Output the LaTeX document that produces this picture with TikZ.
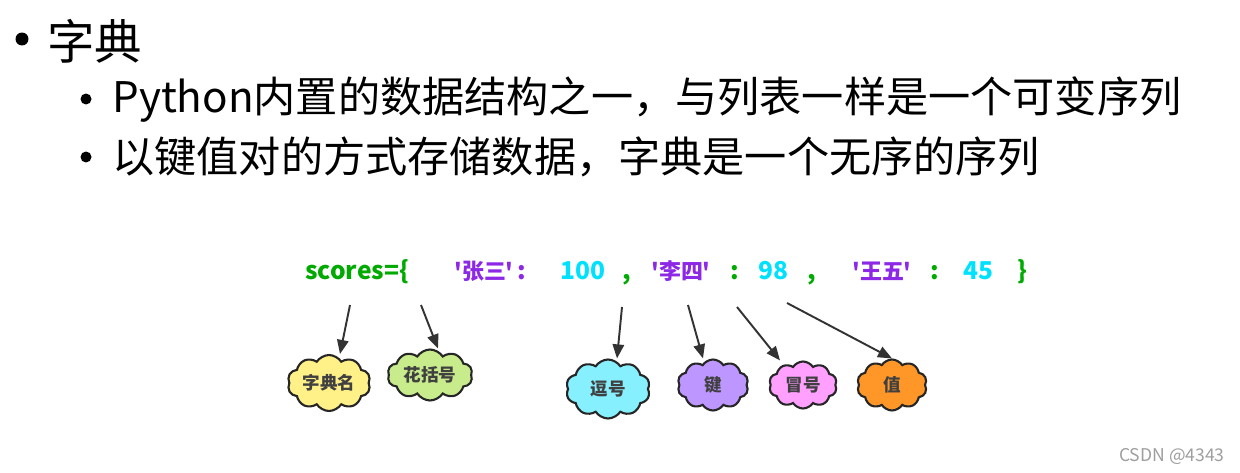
\documentclass[tikz,border=0pt]{standalone}
\usepackage{fontspec}
\setmainfont{Noto Sans CJK SC}
\usetikzlibrary{shapes.symbols,arrows.meta}

\definecolor{kgreen}{RGB}{0,170,0}
\definecolor{kpurple}{RGB}{140,40,230}
\definecolor{kcyan}{RGB}{0,225,255}
\definecolor{kyellow}{RGB}{255,240,135}
\definecolor{klime}{RGB}{200,235,140}
\definecolor{ksky}{RGB}{135,240,255}
\definecolor{klav}{RGB}{190,150,255}
\definecolor{kpink}{RGB}{255,160,255}
\definecolor{korange}{RGB}{255,150,40}

\tikzset{
  code/.style={anchor=base west, inner sep=0pt, font=\fontsize{14}{16}\selectfont\bfseries},
  ckey/.style={code, text=kpurple, font=\fontsize{12.5}{15}\selectfont\bfseries},
  bubble/.style={cloud, cloud puffs=10, cloud puff arc=115, cloud ignores aspect, draw=black!85, line width=1.2pt,
    inner sep=0pt, font=\fontsize{10}{12}\selectfont\bfseries, text=black!75},
  dot/.style={circle, fill=black, inner sep=0pt},
  tag/.style={-{Triangle[length=8pt,width=6.5pt]}, draw=black!80, line width=1.1pt}
}

\begin{document}
\begin{tikzpicture}[x=0.02cm,y=-0.02cm]
\useasboundingbox (0,0) rectangle (1240,473);

% bullets
\node (b0) at (22,39) [dot, minimum size=0.26cm] {};
\node (title) at (47,41) [anchor=west, inner sep=0pt] {\fontsize{27}{30}\selectfont 字典};
\node (b1) at (86,99) [dot, minimum size=0.22cm] {};
\node (line1) at (112,100) [anchor=west, inner sep=0pt] {\fontsize{24}{27}\selectfont Python内置的数据结构之一，与列表一样是一个可变序列};
\node (b2) at (86,157) [dot, minimum size=0.22cm] {};
\node (line2) at (112,157) [anchor=west, inner sep=0pt] {\fontsize{24}{27}\selectfont 以键值对的方式存储数据，字典是一个无序的序列};

% the dictionary line
\node (sc) at (305,279) [code, text=kgreen] {scores=\{};
\node (k1) at (454,279) [ckey] {\textquotesingle 张三\textquotesingle};
\node (m1) at (522,279) [code, anchor=base, text=kpurple] {:};
\node (v1) at (560,279) [code, text=kcyan] {100};
\node (c1) at (627,279) [code, anchor=base, text=kgreen] {,};
\node (k2) at (651,279) [ckey] {\textquotesingle 李四\textquotesingle};
\node (m2) at (735,279) [code, anchor=base, text=kgreen] {:};
\node (v2) at (758,279) [code, text=kcyan] {98};
\node (c2) at (812,279) [code, anchor=base, text=kgreen] {,};
\node (k3) at (852,279) [ckey] {\textquotesingle 王五\textquotesingle};
\node (m3) at (935,279) [code, anchor=base, text=kgreen] {:};
\node (v3) at (963,279) [code, text=kcyan] {45};
\node (rb) at (1022,279) [code, anchor=base, text=kgreen] {\}};

% clouds
\node (name) at (329,383) [bubble, fill=kyellow, minimum width=1.66cm, minimum height=1.12cm] {字典名};
\node (brace) at (430,375) [bubble, fill=klime, minimum width=1.7cm, minimum height=1.02cm] {花括号};
\node (comma) at (608,389) [bubble, fill=ksky, minimum width=1.68cm, minimum height=1.18cm] {逗号};
\node (key) at (713,385) [bubble, fill=klav, minimum width=1.42cm, minimum height=1.02cm] {键};
\node (colon) at (803,385) [bubble, fill=kpink, minimum width=1.36cm, minimum height=0.94cm] {冒号};
\node (val) at (892,385) [bubble, fill=korange, minimum width=1.4cm, minimum height=1.02cm] {值};

% arrow tails
\coordinate (tn) at (350,305);
\coordinate (tb) at (421,305);
\coordinate (tc) at (622,307);
\coordinate (tk) at (688,305);
\coordinate (tm) at (737,307);
\coordinate (tv) at (787,303);

\draw [tag] (tn) -- ([xshift=0.22cm]name.north);
\draw [tag] (tb) -- ([xshift=0.16cm]brace.north);
\draw [tag] (tc) -- ([xshift=0.18cm]comma.north);
\draw [tag] (tk) -- ([xshift=-0.2cm]key.north);
\draw [tag] (tm) -- ([xshift=-0.46cm]colon.north);
\draw [tag] (tv) -- (val.north);

\node (mark) at (1225,456) [anchor=east, inner sep=0pt, text=black!38] {\fontsize{10}{12}\selectfont CSDN @4343};
\end{tikzpicture}
\end{document}
